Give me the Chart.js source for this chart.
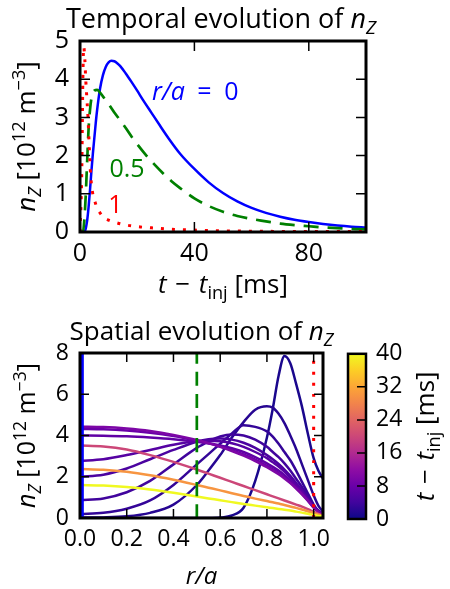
<!DOCTYPE html>
<html><head><meta charset="utf-8">
<script src="https://cdn.jsdelivr.net/npm/chart.js@4"></script>
<style>
html,body{margin:0;padding:0;background:#fff;}
body{width:450px;height:589px;position:relative;overflow:hidden;}
canvas{position:absolute;}
</style></head><body>
<canvas id="top" width="450" height="310" style="left:0;top:0"></canvas>
<canvas id="bot" width="450" height="279" style="left:0;top:310px"></canvas>
<canvas id="cb" width="120" height="230" style="left:330px;top:330px"></canvas>
<script>
const FONT = '"Open Sans", "Noto Sans", sans-serif';

// ---- Top panel: temporal evolution ----
const tBlue = [0, 1, 1.75, 2.5, 3, 3.5, 4, 4.5, 5, 5.5, 6, 7, 8, 9, 10, 11, 12, 13, 14, 16, 18, 20, 22, 25, 28, 31, 35, 40, 45, 50, 55, 60, 65, 70, 75, 80, 85, 90, 95, 100];
const nBlue = [0, 0, 0.03, 0.3, 0.65, 1.1, 1.6, 2.05, 2.45, 2.85, 3.2, 3.75, 4.1, 4.32, 4.44, 4.48, 4.47, 4.42, 4.35, 4.15, 3.93, 3.7, 3.46, 3.12, 2.78, 2.45, 2.05, 1.65, 1.3, 1.02, 0.8, 0.63, 0.5, 0.4, 0.32, 0.26, 0.21, 0.17, 0.14, 0.12];
const tGreen = [0, 1, 1.5, 2, 2.5, 3, 3.5, 4, 5, 6, 7, 8, 10, 12, 14, 16, 18, 20, 23, 26, 29, 32, 35, 40, 45, 50, 55, 60, 65, 70, 75, 80, 85, 90, 95, 100];
const nGreen = [0, 0.02, 0.3, 0.95, 1.85, 2.7, 3.2, 3.5, 3.7, 3.72, 3.65, 3.55, 3.35, 3.13, 2.93, 2.72, 2.5, 2.3, 2.02, 1.77, 1.54, 1.33, 1.15, 0.88, 0.68, 0.53, 0.42, 0.34, 0.28, 0.22, 0.18, 0.15, 0.12, 0.1, 0.08, 0.07];
const tRed = [0, 0.6, 1.0, 1.3, 1.7, 2.0, 2.4, 2.8, 3.2, 3.6, 4.0, 4.6, 5.2, 6, 7, 8, 10, 12, 15, 20, 25, 30, 40, 50, 60, 70, 80, 90, 100];
const nRed = [0, 1.5, 4.0, 4.85, 4.5, 4.0, 3.5, 3.0, 2.3, 1.65, 1.25, 0.95, 0.8, 0.62, 0.5, 0.4, 0.31, 0.26, 0.2, 0.14, 0.11, 0.08, 0.05, 0.03, 0.02, 0.015, 0.01, 0.01, 0.01];
const topXTicks = [0, 40, 80];
const topYTicks = [0, 1, 2, 3, 4, 5];
const topLabels = [
  {runs: [{t: 'r/a', it: 1}, {t: '\u2002=\u20020'}], t: 25.2, n: 3.46, color: '#0000ff'},
  {runs: [{t: '0.5'}], t: 10.3, n: 1.44, color: '#008000'},
  {runs: [{t: '1'}], t: 9.9, n: 0.5, color: '#ff0000'}
];

// ---- Bottom panel: spatial profiles ----
const rGrid = [0, 0.1, 0.2, 0.3, 0.4, 0.5, 0.55, 0.6, 0.65, 0.7, 0.75, 0.8, 0.825, 0.85, 0.875, 0.9, 0.925, 0.95, 0.975, 1.0, 1.02, 1.04];
const profTimes = [1, 2, 3, 4, 5, 6, 7, 8, 10, 20, 30, 40];
const p01 = [0, 0, 0, 0, 0, 0, 0, 0.02, 0.12, 0.5, 1.8, 3.9, 5.3, 6.9, 7.85, 7.5, 6.5, 5.4, 4.1, 2.9, 2.3, 1.9];
const p02 = [0.02, 0.03, 0.08, 0.25, 0.65, 1.6, 2.3, 3.05, 3.9, 4.65, 5.25, 5.42, 5.35, 5.05, 4.6, 4.0, 3.35, 2.6, 1.85, 1.1, 0.6, 0.3];
const p03 = [0.19, 0.25, 0.45, 0.85, 1.6, 2.6, 3.1, 3.6, 4.1, 4.5, 4.42, 4.2, 3.95, 3.6, 3.2, 2.8, 2.3, 1.75, 1.2, 0.65, 0.35, 0.2];
const p04 = [0.87, 0.95, 1.25, 1.8, 2.6, 3.4, 3.7, 3.95, 4.05, 4.0, 3.8, 3.45, 3.2, 2.95, 2.65, 2.3, 1.9, 1.5, 1.05, 0.6, 0.35, 0.2];
const p05 = [2.0, 2.1, 2.4, 2.85, 3.3, 3.7, 3.82, 3.85, 3.8, 3.65, 3.4, 3.05, 2.85, 2.62, 2.35, 2.05, 1.7, 1.35, 0.95, 0.55, 0.33, 0.2];
const p06 = [2.77, 2.85, 3.05, 3.3, 3.55, 3.72, 3.75, 3.72, 3.62, 3.45, 3.2, 2.9, 2.7, 2.5, 2.25, 1.95, 1.62, 1.3, 0.92, 0.55, 0.32, 0.2];
const p07 = [4.0, 3.99, 3.96, 3.9, 3.82, 3.7, 3.62, 3.52, 3.38, 3.2, 2.95, 2.65, 2.48, 2.3, 2.08, 1.82, 1.52, 1.22, 0.88, 0.52, 0.3, 0.18];
const p08 = [4.32, 4.3, 4.24, 4.13, 3.97, 3.75, 3.62, 3.46, 3.29, 3.08, 2.83, 2.53, 2.36, 2.18, 1.97, 1.73, 1.46, 1.17, 0.85, 0.51, 0.3, 0.18];
const p10 = [4.43, 4.41, 4.34, 4.22, 4.03, 3.78, 3.63, 3.45, 3.25, 3.02, 2.76, 2.46, 2.3, 2.12, 1.92, 1.69, 1.43, 1.15, 0.84, 0.5, 0.3, 0.17];
const p20 = [3.52, 3.47, 3.32, 3.05, 2.72, 2.35, 2.15, 1.95, 1.75, 1.55, 1.35, 1.15, 1.05, 0.95, 0.85, 0.75, 0.65, 0.55, 0.43, 0.3, 0.2, 0.13];
const p30 = [2.38, 2.34, 2.24, 2.07, 1.85, 1.6, 1.47, 1.34, 1.2, 1.07, 0.94, 0.82, 0.76, 0.7, 0.63, 0.56, 0.49, 0.41, 0.33, 0.23, 0.16, 0.1];
const p40 = [1.6, 1.57, 1.5, 1.38, 1.22, 1.04, 0.95, 0.86, 0.77, 0.68, 0.6, 0.52, 0.48, 0.44, 0.4, 0.36, 0.31, 0.26, 0.21, 0.15, 0.1, 0.07];
const profiles = [p01, p02, p03, p04, p05, p06, p07, p08, p10, p20, p30, p40];
const rMarks = [0.01, 0.5, 1.0];
const botXTicks = [0, 0.2, 0.4, 0.6, 0.8, 1.0];
const botXLabels = ['0.0', '0.2', '0.4', '0.6', '0.8', '1.0'];
const botYTicks = [0, 2, 4, 6, 8];
const cbTicks = [0, 8, 16, 24, 32, 40];

// plasma colormap stops
const plasmaStops = ['#0d0887','#41049d','#6a00a8','#8f0da4','#b12a90','#cc4778','#e16462','#f2844b','#fca636','#fcce25','#f0f921'];
function hex2rgb(h){return [parseInt(h.slice(1,3),16),parseInt(h.slice(3,5),16),parseInt(h.slice(5,7),16)];}
function plasma(f){
  f = Math.max(0, Math.min(1, f));
  const x = f * (plasmaStops.length - 1), i = Math.min(Math.floor(x), plasmaStops.length - 2), u = x - i;
  const a = hex2rgb(plasmaStops[i]), b = hex2rgb(plasmaStops[i+1]);
  return 'rgb(' + a.map((v,k)=>Math.round(v + (b[k]-v)*u)).join(',') + ')';
}
const pts = (xs, ys) => xs.map((x, i) => ({x, y: ys[i]}));

function rich(ctx, runs, x, y, size, align, rot, color){
  ctx.save();
  ctx.translate(x, y);
  if (rot) ctx.rotate(rot);
  let w = 0;
  const parts = runs.map(r => {
    const s = (r.sub || r.sup) ? size * 0.7 : size;
    const f = (r.it ? 'italic ' : '') + s + 'px ' + FONT;
    ctx.font = f;
    const m = ctx.measureText(r.t).width;
    w += m;
    return {r, f, m};
  });
  let cx = align === 'center' ? -w / 2 : (align === 'right' ? -w : 0);
  ctx.fillStyle = color;
  ctx.textBaseline = 'alphabetic';
  ctx.textAlign = 'left';
  parts.forEach(p => {
    ctx.font = p.f;
    const dy = p.r.sub ? size * 0.22 : (p.r.sup ? -size * 0.38 : 0);
    ctx.fillText(p.r.t, cx, dy);
    cx += p.m;
  });
  ctx.restore();
}

const framePlugin = {
  id: 'frame',
  afterDatasetsDraw(chart, args, o) {
    const {ctx, chartArea: a} = chart;
    ctx.save();
    ctx.strokeStyle = '#000';
    ctx.lineWidth = o.tickWidth;
    ctx.beginPath();
    Object.keys(chart.scales).forEach(id => {
      const s = chart.scales[id];
      if (!s.options.display) return;
      const sides = (o.sides && o.sides[id]) || [];
      s.ticks.forEach(t => {
        const p = s.getPixelForValue(t.value);
        if (s.isHorizontal()) {
          if (p < a.left + 3 || p > a.right - 3) return;
          if (sides.includes('bottom')) { ctx.moveTo(p, a.bottom); ctx.lineTo(p, a.bottom - o.len); }
          if (sides.includes('top')) { ctx.moveTo(p, a.top); ctx.lineTo(p, a.top + o.len); }
        } else {
          if (p < a.top + 3 || p > a.bottom - 3) return;
          if (sides.includes('left')) { ctx.moveTo(a.left, p); ctx.lineTo(a.left + o.len, p); }
          if (sides.includes('right')) { ctx.moveTo(a.right, p); ctx.lineTo(a.right - o.len, p); }
        }
      });
    });
    ctx.stroke();
    ctx.lineWidth = o.border;
    ctx.strokeRect(a.left, a.top, a.right - a.left, a.bottom - a.top);
    ctx.restore();
  }
};

const yTitleRuns = [{t:'n',it:1},{t:'Z',it:1,sub:1},{t:' [10'},{t:'12',sup:1},{t:' m'},{t:'\u22123',sup:1},{t:']'}];
const tTitleRuns = [{t:'t',it:1},{t:'\u2004\u2212\u2004'},{t:'t',it:1},{t:'inj',sub:1},{t:' [ms]'}];

const topText = {
  id: 'topText',
  afterDraw(chart) {
    const {ctx, chartArea: a, scales: {x, y}} = chart;
    const cx = (a.left + a.right) / 2;
    rich(ctx, [{t:'Temporal evolution of '},{t:'n',it:1},{t:'Z',it:1,sub:1}], cx - 2, 28, 27, 'center', 0, '#000');
    rich(ctx, tTitleRuns, cx, 293, 26, 'center', 0, '#000');
    rich(ctx, yTitleRuns, 35, (a.top + a.bottom) / 2, 26, 'center', -Math.PI / 2, '#000');
    topLabels.forEach(l => rich(ctx, l.runs, x.getPixelForValue(l.t), y.getPixelForValue(l.n), 25, 'left', 0, l.color));
  }
};
const botText = {
  id: 'botText',
  afterDraw(chart) {
    const {ctx, chartArea: a} = chart;
    const cx = (a.left + a.right) / 2;
    rich(ctx, [{t:'Spatial evolution of '},{t:'n',it:1},{t:'Z',it:1,sub:1}], cx, 30, 26, 'center', 0, '#000');
    rich(ctx, [{t:'r/a',it:1}], cx, 274, 24, 'center', 0, '#000');
    rich(ctx, yTitleRuns, 35, (a.top + a.bottom) / 2, 25, 'center', -Math.PI / 2, '#000');
  }
};
const cbText = {
  id: 'cbText',
  afterDraw(chart) {
    const {ctx, chartArea: a} = chart;
    rich(ctx, tTitleRuns, 104, (a.top + a.bottom) / 2, 26, 'center', -Math.PI / 2, '#000');
  }
};

const baseOpts = {
  responsive: false, animation: false, events: [],
  elements: {point: {radius: 0}, line: {cubicInterpolationMode: 'monotone', fill: false, borderCapStyle: 'butt'}}
};
function tickOpts(size, pad, cb){
  return {font: {family: FONT, size}, color: '#000', padding: pad, autoSkip: false, maxRotation: 0, callback: cb};
}

new Chart(document.getElementById('top'), {
  type: 'line',
  data: {datasets: [
    {data: pts(tBlue, nBlue), borderColor: '#0000ff', borderWidth: 2.5, order: 3},
    {data: pts(tGreen, nGreen), borderColor: '#008000', borderWidth: 2.7, borderDash: [15, 9], order: 2},
    {data: pts(tRed, nRed), borderColor: '#ff0000', borderWidth: 3, borderDash: [3, 8], order: 1}
  ]},
  options: Object.assign({}, baseOpts, {
    layout: {padding: {left: 0, top: 41, right: 84, bottom: 0}},
    plugins: {legend: {display: false}, tooltip: {enabled: false},
      frame: {tickWidth: 1.5, len: 10, border: 3, sides: {x: ['top','bottom'], y: ['left','right']}}},
    scales: {
      x: {type: 'linear', min: 0, max: 100,
        afterBuildTicks: s => { s.ticks = topXTicks.map(v => ({value: v})); },
        afterFit: s => { s.height = 78; },
        grid: {display: false, drawTicks: false}, border: {display: false},
        ticks: tickOpts(25, 7, v => String(v))},
      y: {type: 'linear', min: 0, max: 5,
        afterBuildTicks: s => { s.ticks = topYTicks.map(v => ({value: v})); },
        afterFit: s => { s.width = 80; },
        grid: {display: false, drawTicks: false}, border: {display: false},
        ticks: tickOpts(25, 11, v => String(v))}
    }
  }),
  plugins: [framePlugin, topText]
});

const botDatasets = [
  {data: [{x: rMarks[0], y: botYTicks[0]}, {x: rMarks[0], y: botYTicks[botYTicks.length-1]}], borderColor: '#0000ff', borderWidth: 3, order: 0},
  {data: [{x: rMarks[1], y: botYTicks[0]}, {x: rMarks[1], y: botYTicks[botYTicks.length-1]}], borderColor: '#008000', borderWidth: 2.7, borderDash: [14, 8], order: 0},
  {data: [{x: rMarks[2], y: botYTicks[0]}, {x: rMarks[2], y: botYTicks[botYTicks.length-1]}], borderColor: '#ff0000', borderWidth: 3, borderDash: [3, 8], order: 0}
].concat(profiles.map((p, k) => ({
  data: pts(rGrid, p), borderColor: plasma(profTimes[k] / 40), borderWidth: 2.5, order: 100 - k
})));

new Chart(document.getElementById('bot'), {
  type: 'line',
  data: {datasets: botDatasets},
  options: Object.assign({}, baseOpts, {
    layout: {padding: {left: 0, top: 43, right: 127, bottom: 0}},
    plugins: {legend: {display: false}, tooltip: {enabled: false},
      frame: {tickWidth: 1.5, len: 9, border: 3, sides: {x: ['top','bottom'], y: ['left','right']}}},
    scales: {
      x: {type: 'linear', min: 0, max: 1.04,
        afterBuildTicks: s => { s.ticks = botXTicks.map(v => ({value: v})); },
        afterFit: s => { s.height = 71; },
        grid: {display: false, drawTicks: false}, border: {display: false},
        ticks: tickOpts(23, 8, (v, i) => botXLabels[i])},
      y: {type: 'linear', min: 0, max: 8,
        afterBuildTicks: s => { s.ticks = botYTicks.map(v => ({value: v})); },
        afterFit: s => { s.width = 80; },
        grid: {display: false, drawTicks: false}, border: {display: false},
        ticks: tickOpts(23, 11, v => String(v))}
    }
  }),
  plugins: [framePlugin, botText]
});

new Chart(document.getElementById('cb'), {
  type: 'bar',
  data: {labels: [''], datasets: [{
    data: [[cbTicks[0], cbTicks[cbTicks.length - 1]]],
    backgroundColor: (c) => {
      const ch = c.chart;
      if (!ch.chartArea) return plasmaStops[5];
      const ys = ch.scales.y;
      const g = ch.ctx.createLinearGradient(0, ys.getPixelForValue(cbTicks[0]), 0, ys.getPixelForValue(cbTicks[cbTicks.length - 1]));
      plasmaStops.forEach((col, i) => g.addColorStop(i / (plasmaStops.length - 1), col));
      return g;
    },
    borderWidth: 0, barPercentage: 1, categoryPercentage: 1
  }]},
  options: Object.assign({}, baseOpts, {
    layout: {padding: {left: 18, top: 23, right: 0, bottom: 41}},
    plugins: {legend: {display: false}, tooltip: {enabled: false},
      frame: {tickWidth: 1.5, len: 9, border: 2.5, sides: {y: ['right']}}},
    scales: {
      x: {display: false},
      y: {position: 'right', min: 0, max: 40,
        afterBuildTicks: s => { s.ticks = cbTicks.map(v => ({value: v})); },
        afterFit: s => { s.width = 84; },
        grid: {display: false, drawTicks: false}, border: {display: false},
        ticks: tickOpts(23, 10, v => String(v))}
    }
  }),
  plugins: [framePlugin, cbText]
});
</script></body></html>
